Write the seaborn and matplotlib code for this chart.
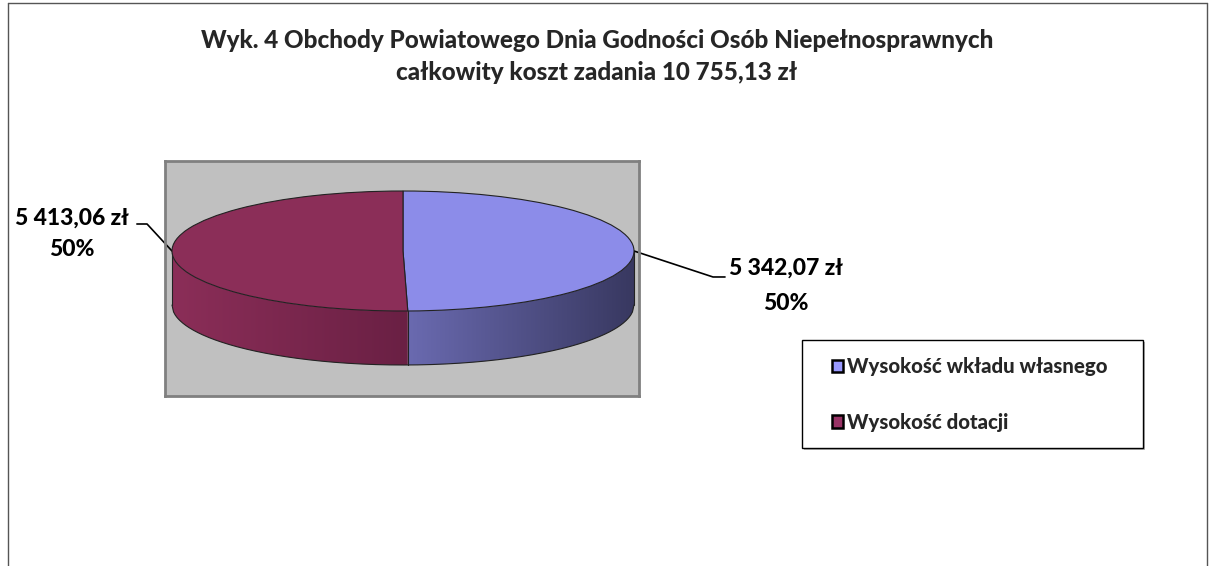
import numpy as np
import matplotlib
matplotlib.use("Agg")
import matplotlib.pyplot as plt
import seaborn as sns
from matplotlib.patches import Patch, Polygon, Rectangle
from matplotlib.lines import Line2D
from matplotlib.colors import LinearSegmentedColormap

# === Data ===
categories = ["Wysokość wkładu własnego", "Wysokość dotacji"]
values = [5342.07, 5413.06]
title_lines = ["Wyk. 4 Obchody Powiatowego Dnia Godności Osób Niepełnosprawnych",
               "całkowity koszt zadania 10 755,13 zł"]

# === Style ===
sns.set_style("white")
plt.rcParams["font.family"] = ["Lato", "DejaVu Sans"]

top_colors = ["#8c8ce9", "#8b2e58"]
legend_colors = ["#9999ff", "#993366"]
side_blue = ("#6a6ab0", "#383860")
side_red = ("#8b2e58", "#6a2044")
depth = 0.9
WT = "black"

fig = plt.figure(figsize=(12.12, 5.66), dpi=100)
W, H = 1212, 566

# plot area (gray box) in pixel coords: x 165..639, y 161..396
ax = fig.add_axes([165 / W, 1 - 396 / H, 474 / W, 235 / H])
ax.set_facecolor("#c0c0c0")

total = sum(values)
fracs = [v / total for v in values]
split_deg = 90 - 360 * fracs[0]            # blue runs clockwise from 12 o'clock
split_x = np.cos(np.radians(split_deg))

# --- side of the cylinder (front half), gradient clipped to the side shape ---
def side_face(x0, x1, c0, c1):
    xx = np.linspace(x0, x1, 200)
    yt = -np.sqrt(np.clip(1 - xx ** 2, 0, None))
    verts = np.column_stack([np.r_[xx, xx[::-1]], np.r_[yt, (yt - depth)[::-1]]])
    poly = Polygon(verts, closed=True, facecolor="none", edgecolor="none")
    ax.add_patch(poly)
    cmap = LinearSegmentedColormap.from_list("side", [c0, c1])
    im = ax.imshow(np.linspace(0, 1, 256).reshape(1, -1), cmap=cmap, aspect="auto",
                   extent=(x0, x1, -1 - depth - 0.05, 0.05), zorder=1,
                   interpolation="bilinear")
    im.set_clip_path(poly)

side_face(-1, split_x, *side_red)
side_face(split_x, 1, *side_blue)

# outline of the side
xx = np.linspace(-1, 1, 300)
yb = -np.sqrt(np.clip(1 - xx ** 2, 0, None)) - depth
ax.plot(xx, yb, color="#222222", lw=0.8, zorder=2)
ax.plot([-1, -1], [0, -depth], color="#222222", lw=0.8, zorder=2)
ax.plot([1, 1], [0, -depth], color="#222222", lw=0.8, zorder=2)
ys = -np.sqrt(1 - split_x ** 2)
ax.plot([split_x, split_x], [ys, ys - depth], color="#222222", lw=0.8, zorder=2)

# --- top face ---
wedges, _ = ax.pie(values, colors=top_colors, startangle=90, counterclock=False,
                   radius=1, frame=True,
                   wedgeprops=dict(edgecolor="#222222", linewidth=0.8))
for w in wedges:
    w.set_zorder(3)

ax.set_aspect("auto")
ax.set_xlim(-238 / 231, 236 / 231)
ax.set_ylim(-145 / 60, 90 / 60)
ax.set_xticks([])
ax.set_yticks([])
for s in ax.spines.values():
    s.set_visible(True)
    s.set_color("#808080")
    s.set_linewidth(2)

# --- data labels ---
def fmt(v):
    return f"{v:,.2f}".replace(",", " ").replace(".", ",") + " zł"

lab_kw = dict(fontsize=16.5, fontweight=WT, ha="center", va="center",
              color="black", clip_on=False)
# blue (right)
ax.plot([1.0, 1.342, 1.394], [0.0, -0.433, -0.433], color="black", lw=1.2, clip_on=False)
ax.text(1.658, -0.283, fmt(values[0]), **lab_kw)
ax.text(1.658, -0.867, f"{fracs[0]:.0%}", **lab_kw)
# red (left)
ax.plot([-1.0, -1.108, -1.152], [0.0, 0.45, 0.45], color="black", lw=1.2, clip_on=False)
ax.text(-1.433, 0.55, fmt(values[1]), **lab_kw)
ax.text(-1.433, 0.017, f"{fracs[1]:.0%}", **lab_kw)

# --- legend box ---
fig.add_artist(Rectangle((803.5 / W, 1 - 449.5 / H), 341 / W, 108 / H,
                         transform=fig.transFigure, facecolor="#b4b4b4",
                         edgecolor="none", zorder=4))
fig.add_artist(Rectangle((802 / W, 1 - 448 / H), 341 / W, 108 / H,
                         transform=fig.transFigure, facecolor="white",
                         edgecolor="black", linewidth=1, zorder=5))
handles = [Patch(facecolor=c, edgecolor="black", linewidth=1.8) for c in legend_colors]
leg = fig.legend(handles, categories, loc="upper left",
                 bbox_to_anchor=(832 / W, 1 - 357 / H), frameon=False,
                 prop=dict(family=["Lato", "DejaVu Sans"], weight=WT, size=14.7),
                 handlelength=0.55, handleheight=0.55, handletextpad=0.2,
                 labelspacing=1.8, borderpad=0, borderaxespad=0)
leg.set_zorder(6)

# --- title ---
fig.text(597 / W, 1 - 40 / H, title_lines[0], ha="center", va="center",
         fontsize=17.5, fontweight=WT)
fig.text(597 / W, 1 - 72 / H, title_lines[1], ha="center", va="center",
         fontsize=17.5, fontweight=WT)

# --- chart border (bottom is cut off) ---
bc = "#555555"
fig.add_artist(Line2D([8 / W, 8 / W], [0, 1 - 3 / H], color=bc, lw=1))
fig.add_artist(Line2D([8 / W, 1207 / W], [1 - 3 / H, 1 - 3 / H], color=bc, lw=1))
fig.add_artist(Line2D([1207 / W, 1207 / W], [0, 1 - 3 / H], color=bc, lw=1))

fig.savefig("out.png", dpi=100, facecolor="white")
